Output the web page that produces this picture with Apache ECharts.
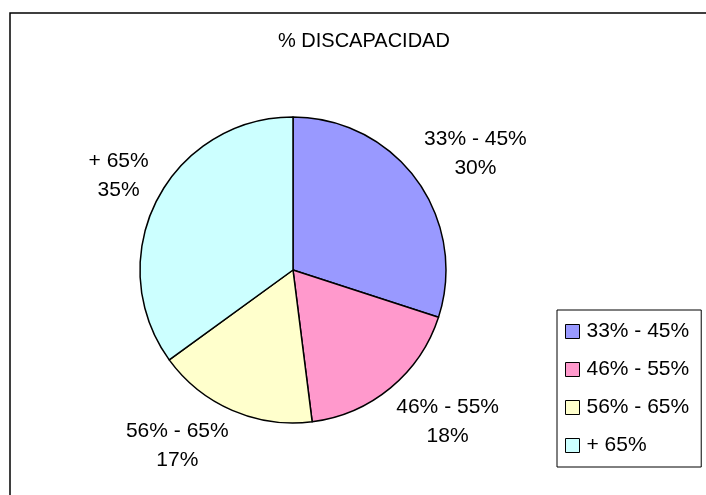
<!DOCTYPE html>
<html>
<head>
<meta charset="utf-8">
<script src="https://cdn.jsdelivr.net/npm/echarts@6/dist/echarts.min.js"></script>
<style>
html,body{margin:0;padding:0;background:#fff;}
#chart{width:706px;height:495px;}
</style>
</head>
<body>
<div id="chart"></div>
<script>
var titleText = '% DISCAPACIDAD';
var categories = ['33% - 45%', '46% - 55%', '56% - 65%', '+ 65%'];
var values = [30, 18, 17, 35];
var colors = ['#9999FF', '#FF99CC', '#FFFFCC', '#CCFFFF'];

var FONT = '"Liberation Sans", Arial, sans-serif';
var chart = echarts.init(document.getElementById('chart'));

var pieData = categories.map(function (c, i) {
  return { name: c, value: values[i] };
});

chart.setOption({
  animation: false,
  color: colors,
  title: {
    text: titleText,
    left: 278,
    top: 31,
    padding: 0,
    textStyle: { fontFamily: FONT, fontSize: 20, fontWeight: 'normal', color: '#000' }
  },
  graphic: [{
    type: 'rect',
    silent: true,
    shape: { x: 10, y: 13, width: 720, height: 500 },
    style: { fill: 'none', stroke: '#000', lineWidth: 1.5 }
  }],
  legend: {
    orient: 'vertical',
    left: 557,
    top: 310,
    padding: [11, 12, 11, 8],
    itemGap: 17,
    itemWidth: 14,
    itemHeight: 14,
    icon: 'rect',
    borderColor: '#000',
    borderWidth: 1,
    backgroundColor: '#fff',
    itemStyle: { borderColor: '#000', borderWidth: 1 },
    textStyle: { fontFamily: FONT, fontSize: 21, lineHeight: 20, color: '#000', padding: [0, 0, 0, 2] },
    data: categories
  },
  series: [{
    type: 'pie',
    center: [293, 270],
    radius: 153,
    startAngle: 90,
    clockwise: true,
    avoidLabelOverlap: false,
    data: pieData,
    itemStyle: { borderColor: '#000', borderWidth: 1.5 },
    label: {
      show: true,
      position: 'outside',
      formatter: '{b}\n{c}%',
      fontFamily: FONT,
      fontSize: 21,
      lineHeight: 29,
      color: '#000'
    },
    labelLine: { show: true, length: 9, length2: 0, lineStyle: { opacity: 0 } },
    labelLayout: function (p) {
      var pts = p.labelLinePoints;
      if (!pts || pts.length < 2) return {};
      var dx = pts[1][0] - pts[0][0];
      var dy = pts[1][1] - pts[0][1];
      var hw = p.labelRect.width / 2;
      var hh = p.labelRect.height / 2 - 5;
      return {
        x: pts[1][0] + (dx >= 0 ? hw : -hw),
        y: pts[1][1] + (dy >= 0 ? hh : -hh) + 3,
        align: 'center',
        verticalAlign: 'middle'
      };
    },
    emphasis: { disabled: true }
  }]
});
</script>
</body>
</html>
